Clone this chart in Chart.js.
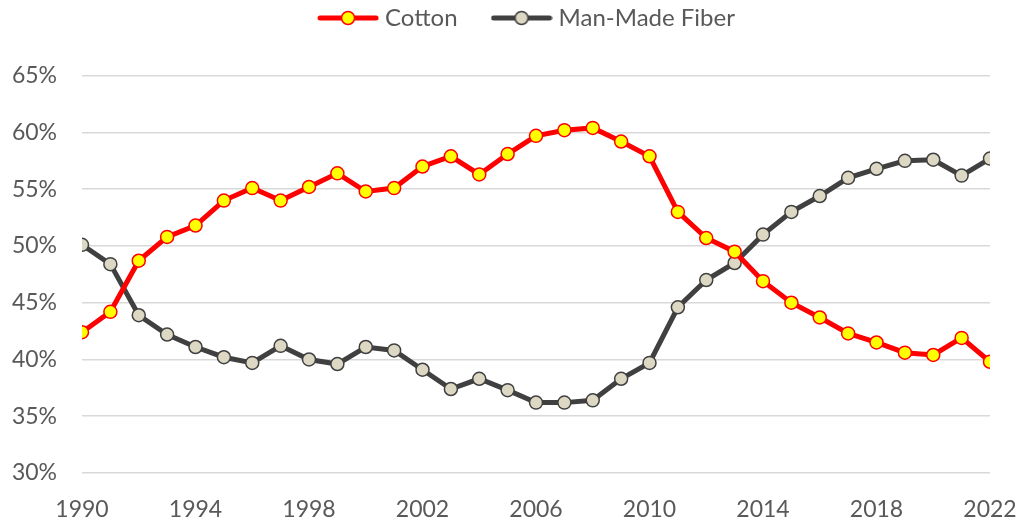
<!DOCTYPE html>
<html>
<head>
<meta charset="utf-8">
<script src="https://cdn.jsdelivr.net/npm/chart.js@4.4.1/dist/chart.umd.min.js"></script>
<style>
  html, body { margin: 0; padding: 0; background: #fff; }
  #wrap { width: 1020px; height: 519px; position: relative; }
</style>
</head>
<body>
<div id="wrap"><canvas id="fiberChart"></canvas></div>
<script>
// Share of fiber consumption (%)
const years = [1990, 1991, 1992, 1993, 1994, 1995, 1996, 1997, 1998, 1999, 2000,
    2001, 2002, 2003, 2004, 2005, 2006, 2007, 2008, 2009, 2010, 2011,
    2012, 2013, 2014, 2015, 2016, 2017, 2018, 2019, 2020, 2021, 2022];

const cotton = [42.4, 44.2, 48.7, 50.8, 51.8, 54.0, 55.1, 54.0, 55.2, 56.4, 54.8,
    55.1, 57.0, 57.9, 56.3, 58.1, 59.7, 60.2, 60.4, 59.2, 57.9, 53.0,
    50.7, 49.5, 46.9, 45.0, 43.7, 42.3, 41.5, 40.6, 40.4, 41.9, 39.8];

const manMade = [50.1, 48.4, 43.9, 42.2, 41.1, 40.2, 39.7, 41.2, 40.0, 39.6, 41.1,
    40.8, 39.1, 37.4, 38.3, 37.3, 36.2, 36.2, 36.4, 38.3, 39.7, 44.6,
    47.0, 48.5, 51.0, 53.0, 54.4, 56.0, 56.8, 57.5, 57.6, 56.2, 57.7];

const yTicks = [30, 35, 40, 45, 50, 55, 60, 65];
const xTicks = [1990, 1994, 1998, 2002, 2006, 2010, 2014, 2018, 2022];

const textColor = '#595959';
const fontFamily = 'Lato, "Open Sans", sans-serif';

// legend swatch: line with a marker in the middle
const makeSwatch = (lineColor, fillColor, borderColor) => {
    const c = document.createElement('canvas');
    c.width = 62;
    c.height = 18;
    const ctx = c.getContext('2d');
    ctx.strokeStyle = lineColor;
    ctx.lineWidth = 5;
    ctx.lineCap = 'round';
    ctx.beginPath();
    ctx.moveTo(3, 9);
    ctx.lineTo(59, 9);
    ctx.stroke();
    ctx.beginPath();
    ctx.arc(31, 9, 6.5, 0, Math.PI * 2);
    ctx.fillStyle = fillColor;
    ctx.fill();
    ctx.lineWidth = 1.5;
    ctx.strokeStyle = borderColor;
    ctx.stroke();
    return c;
};

const toPoints = (vals) => years.map((y, i) => ({ x: y, y: vals[i] }));

const swatches = [
    makeSwatch('#FF0000', '#FFFF00', '#FF0000'),
    makeSwatch('#404040', '#DDD8C4', '#404040')
];

// push the plot down below the legend and nudge the legend sideways
const legendPlacement = {
    id: 'legendPlacement',
    beforeLayout(chart) {
        const legend = chart.legend;
        if (legend && !legend._patched) {
            const fit = legend.fit;
            legend.fit = function () {
                fit.call(this);
                this.height += 35.7;
            };
            legend._patched = true;
        }
    },
    afterLayout(chart) {
        const legend = chart.legend;
        if (legend) {
            legend.left += 34;
            legend.right += 34;
        }
    },
};

new Chart(document.getElementById('fiberChart').getContext('2d'), {
    type: 'line',
    data: {
        datasets: [
            {
                label: 'Cotton',
                data: toPoints(cotton),
                borderColor: '#FF0000',
                backgroundColor: '#FFFF00',
                borderWidth: 5,
                pointRadius: 6.5,
                pointBorderWidth: 1.5,
                pointBackgroundColor: '#FFFF00',
                pointBorderColor: '#FF0000',
                tension: 0,
            },
            {
                label: 'Man-Made Fiber',
                data: toPoints(manMade),
                borderColor: '#404040',
                backgroundColor: '#DDD8C4',
                borderWidth: 5,
                pointRadius: 6.5,
                pointBorderWidth: 1.5,
                pointBackgroundColor: '#DDD8C4',
                pointBorderColor: '#404040',
                tension: 0,
            },
        ],
    },
    plugins: [legendPlacement],
    options: {
        responsive: true,
        maintainAspectRatio: false,
        animation: false,
        layout: { padding: { top: -33, right: 30, left: 0, bottom: 0 } },
        plugins: {
            legend: {
                position: 'top',
                labels: {
                    usePointStyle: true,
                    pointStyleWidth: 50,
                    color: textColor,
                    font: { family: fontFamily, size: 24 },
                    padding: 39,
                    generateLabels: (chart) => chart.data.datasets.map((ds, i) => ({
                        text: ds.label,
                        pointStyle: swatches[i],
                        fontColor: textColor,
                        datasetIndex: i,
                        hidden: false,
                        lineWidth: 0,
                    })),
                },
            },
            tooltip: { enabled: false },
        },
        scales: {
            x: {
                type: 'linear',
                min: 1990,
                max: 2022,
                afterBuildTicks: (scale) => { scale.ticks = xTicks.map(v => ({ value: v })); },
                afterFit: (scale) => {
                    scale.height = 46;
                    scale.paddingLeft = 0;
                    scale.paddingRight = 0;
                },
                grid: { display: false, drawTicks: false },
                border: { display: false },
                ticks: {
                    color: textColor,
                    font: { family: fontFamily, size: 23 },
                    padding: 23,
                    maxRotation: 0,
                    callback: (v) => String(v),
                },
            },
            y: {
                min: 30,
                max: 65,
                afterBuildTicks: (scale) => { scale.ticks = yTicks.map(v => ({ value: v })); },
                afterFit: (scale) => { scale.width = 82; },
                grid: { color: '#D9D9D9', lineWidth: 1.5, drawTicks: false },
                border: { display: false },
                ticks: {
                    color: textColor,
                    font: { family: fontFamily, size: 23 },
                    padding: 25,
                    callback: (v) => v + '%',
                },
            },
        },
    },
});
</script>
</body>
</html>
